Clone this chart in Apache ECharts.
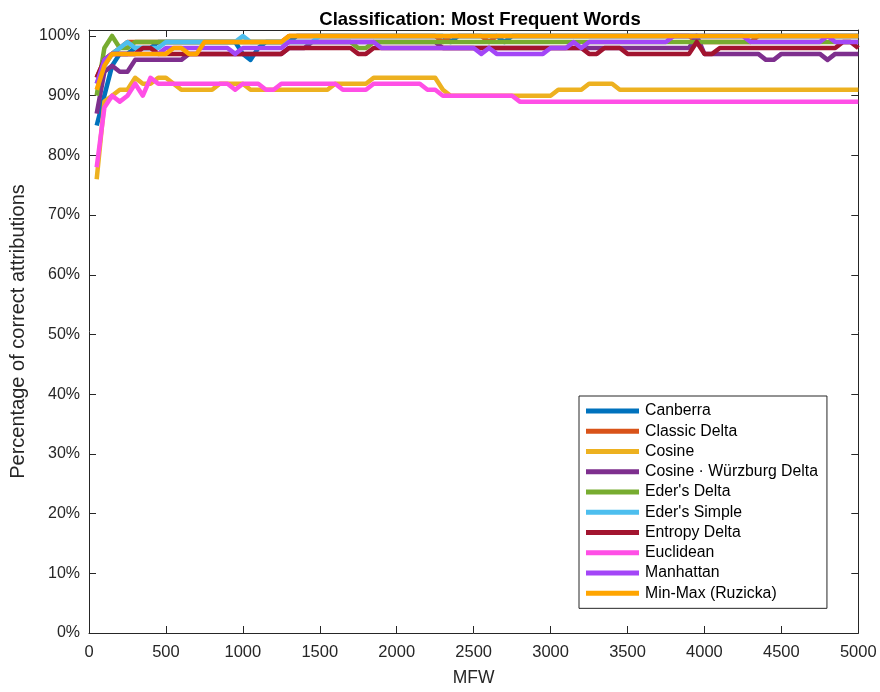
<!DOCTYPE html>
<html>
<head>
<meta charset="utf-8">
<script src="https://cdn.jsdelivr.net/npm/echarts@6/dist/echarts.min.js"></script>
<style>
html,body{margin:0;padding:0;background:#fff;}
#chart{width:880px;height:692px;}
</style>
</head>
<body>
<div id="chart"></div>
<script>
var mfw = [50,100,150,200,250,300,350,400,450,500,
  550,600,650,700,750,800,850,900,950,1000,
  1050,1100,1150,1200,1250,1300,1350,1400,1450,1500,
  1550,1600,1650,1700,1750,1800,1850,1900,1950,2000,
  2050,2100,2150,2200,2250,2300,2350,2400,2450,2500,
  2550,2600,2650,2700,2750,2800,2850,2900,2950,3000,
  3050,3100,3150,3200,3250,3300,3350,3400,3450,3500,
  3550,3600,3650,3700,3750,3800,3850,3900,3950,4000,
  4050,4100,4150,4200,4250,4300,4350,4400,4450,4500,
  4550,4600,4650,4700,4750,4800,4850,4900,4950,5000];

var seriesNames = ["Canberra","Classic Delta","Cosine","Cosine \u00b7 W\u00fcrzburg Delta","Eder's Delta","Eder's Simple","Entropy Delta","Euclidean","Manhattan","Min-Max (Ruzicka)"];

var canberra = [85,90,95,97,97,98,98,98,99,99,
  99,99,99,99,99,99,99,99,99,97,
  96,98,99,99,99,99,100,100,100,100,
  100,100,100,100,100,100,100,100,100,100,
  100,100,100,100,100,100,99,100,100,100,
  100,100,100,99,100,100,100,100,100,100,
  100,100,100,100,100,100,100,100,100,100,
  100,100,100,100,100,100,100,100,100,100,
  100,100,100,100,100,100,100,100,100,100,
  100,100,100,100,100,100,100,100,100,100];

var classicDelta = [93,96,97,98,99,99,99,99,99,99,
  99,99,99,99,99,99,99,99,99,99,
  99,99,99,99,99,100,100,100,100,100,
  100,100,100,100,100,100,100,100,100,100,
  100,100,100,100,100,99,100,100,100,100,
  100,99,100,100,100,100,100,100,100,100,
  100,100,100,100,100,100,100,100,100,100,
  100,100,100,100,100,100,100,100,99,99,
  99,99,99,99,99,99,100,100,100,100,
  100,100,100,100,100,100,100,100,100,100];

var cosine = [76,89,90,91,91,93,92,92,93,93,
  92,91,91,91,91,91,92,92,92,92,
  91,91,91,91,91,91,91,91,91,91,
  91,92,92,92,92,92,93,93,93,93,
  93,93,93,93,93,91,90,90,90,90,
  90,90,90,90,90,90,90,90,90,90,
  91,91,91,91,92,92,92,92,91,91,
  91,91,91,91,91,91,91,91,91,91,
  91,91,91,91,91,91,91,91,91,91,
  91,91,91,91,91,91,91,91,91,91];

var wurzburg = [87,94,95,94,94,96,96,96,96,96,
  96,96,97,97,97,97,97,97,97,97,
  97,97,97,97,97,98,98,98,99,99,
  99,99,99,99,99,99,99,99,99,99,
  99,99,99,99,99,98,98,98,98,98,
  98,98,98,98,98,98,98,98,98,98,
  98,98,98,98,98,98,98,98,98,98,
  98,98,98,98,98,98,98,98,100,97,
  97,97,97,97,97,97,97,96,96,97,
  97,97,97,97,97,96,97,97,97,97];

var edersDelta = [90,98,100,98,98,99,99,99,99,99,
  99,99,99,99,99,99,99,99,99,99,
  99,99,99,99,99,99,99,99,99,99,
  99,99,99,99,98,98,99,99,99,99,
  99,99,99,99,99,99,99,99,99,99,
  99,99,99,99,99,99,99,99,99,99,
  99,99,99,99,99,99,99,99,99,99,
  99,99,99,99,99,99,99,99,99,99,
  99,99,99,99,99,99,99,99,99,99,
  99,99,99,99,99,99,99,99,99,99];

var edersSimple = [92,95,97,98,99,98,98,98,98,99,
  99,99,99,99,99,99,99,99,99,100,
  99,99,99,99,99,99,99,99,99,100,
  100,100,100,100,100,100,100,100,100,100,
  100,100,100,100,100,100,100,100,100,100,
  100,100,100,100,100,100,100,100,100,100,
  100,100,100,100,100,100,100,100,100,100,
  100,100,100,100,100,100,100,100,100,100,
  100,100,100,100,100,100,100,100,100,100,
  100,100,100,100,100,100,100,100,100,100];

var entropyDelta = [93,96,97,97,97,97,98,98,97,97,
  97,97,97,97,97,97,97,97,97,97,
  97,97,97,97,97,98,98,98,98,98,
  98,98,98,98,97,97,98,98,98,98,
  98,98,98,98,98,98,98,98,98,98,
  98,98,98,98,98,98,98,98,98,98,
  98,98,98,98,97,97,98,98,98,97,
  97,97,97,97,97,97,97,97,99,97,
  97,98,98,98,98,98,98,98,98,98,
  98,98,98,98,98,98,98,99,99,98];

var euclidean = [78,88,90,89,90,92,90,93,92,92,
  92,92,92,92,92,92,92,92,91,92,
  92,92,91,91,92,92,92,92,92,92,
  92,92,91,91,91,91,92,92,92,92,
  92,92,92,91,91,90,90,90,90,90,
  90,90,90,90,90,89,89,89,89,89,
  89,89,89,89,89,89,89,89,89,89,
  89,89,89,89,89,89,89,89,89,89,
  89,89,89,89,89,89,89,89,89,89,
  89,89,89,89,89,89,89,89,89,89];

var manhattan = [92,96,97,97,97,97,97,97,97,98,
  98,98,98,98,98,98,98,98,97,98,
  98,98,98,98,98,99,99,99,99,99,
  99,99,99,99,99,99,99,98,98,98,
  98,98,98,98,98,98,98,98,98,98,
  97,98,97,97,97,97,97,97,97,98,
  98,98,99,98,99,99,99,99,99,99,
  99,99,99,99,99,100,100,100,100,100,
  100,100,100,100,100,99,99,99,99,99,
  99,99,99,99,99,100,99,99,99,99];

var minMax = [91,95,97,97,97,97,97,97,97,97,
  98,98,97,97,99,99,99,99,99,99,
  99,99,99,99,99,100,100,100,100,100,
  100,100,100,100,100,100,100,100,100,100,
  100,100,100,100,100,100,100,100,100,100,
  100,100,100,100,100,100,100,100,100,100,
  100,100,100,100,100,100,100,100,100,100,
  100,100,100,100,100,100,100,100,100,100,
  100,100,100,100,100,100,100,100,100,100,
  100,100,100,100,100,100,100,100,100,100];

var colors = ['#0072BD','#D95319','#EDB120','#7E2F8E','#77AC30','#4DBEEE','#A2142F','#FF4FE6','#A346F7','#FFA500'];
var allValues = [canberra, classicDelta, cosine, wurzburg, edersDelta, edersSimple, entropyDelta, euclidean, manhattan, minMax];

var FONT = '"Liberation Sans", Arial, Helvetica, sans-serif';
var AX = '#262626';

var series = seriesNames.map(function (name, k) {
  return {
    name: name,
    type: 'line',
    xAxisIndex: 0,
    yAxisIndex: 0,
    showSymbol: false,
    symbol: 'none',
    data: mfw.map(function (x, i) { return [x, allValues[k][i]]; }),
    lineStyle: { width: 4.5, color: colors[k], join: 'round', cap: 'butt' },
    itemStyle: { color: colors[k] },
    emphasis: { disabled: true },
    animation: false,
    z: 2 + k
  };
});

function axisBase(pos, showLabels) {
  return {
    type: 'value',
    position: pos,
    axisLine: { show: true, onZero: false, lineStyle: { color: AX, width: 1 } },
    axisTick: { show: true, inside: true, length: 7, lineStyle: { color: AX, width: 1 } },
    splitLine: { show: false },
    axisLabel: { show: showLabels, color: AX, fontFamily: FONT, fontSize: 16.5 }
  };
}

var xBottom = axisBase('bottom', true);
xBottom.min = 0; xBottom.max = 5000; xBottom.interval = 500;
xBottom.axisLabel.formatter = function (v) { return String(v); };
xBottom.name = 'MFW';
xBottom.nameLocation = 'middle';
xBottom.nameGap = 36;
xBottom.nameTextStyle = { color: AX, fontFamily: FONT, fontSize: 17.5 };
xBottom.axisLabel.margin = 11;

var xTop = axisBase('top', false);
xTop.min = 0; xTop.max = 5000; xTop.interval = 500;

var yLeft = axisBase('left', true);
yLeft.min = 0; yLeft.max = 101; yLeft.interval = 10;
yLeft.axisLabel.formatter = function (v) { return v > 100 ? '' : v + '%'; };
yLeft.axisLabel.margin = 9;
yLeft.axisLabel.fontSize = 16;
yLeft.name = 'Percentage of correct attributions';
yLeft.nameLocation = 'middle';
yLeft.nameGap = 61;
yLeft.nameTextStyle = { color: AX, fontFamily: FONT, fontSize: 20 };

var yRight = axisBase('right', false);
yRight.min = 0; yRight.max = 101; yRight.interval = 10;

var chart = echarts.init(document.getElementById('chart'), null, { renderer: 'canvas' });
chart.setOption({
  animation: false,
  backgroundColor: '#ffffff',
  color: colors,
  title: {
    text: 'Classification: Most Frequent Words',
    left: 475, top: 5, textAlign: 'center',
    textStyle: { fontFamily: FONT, fontSize: 18.5, fontWeight: 'bold', color: '#000' }
  },
  grid: { left: 87.5, right: 21.7, top: 30, bottom: 52.5, containLabel: false },
  xAxis: [xBottom, xTop],
  yAxis: [yLeft, yRight],
  legend: {
    orient: 'vertical',
    left: 579, top: 396,
    padding: [7, 9, 7, 7],
    itemGap: 4.26,
    itemWidth: 53, itemHeight: 5,
    icon: 'rect',
    backgroundColor: '#fff',
    borderColor: AX, borderWidth: 1, borderRadius: 0,
    textStyle: { fontFamily: FONT, fontSize: 15.8, lineHeight: 16, color: '#000', padding: [0, 0, 0, 1] },
    data: seriesNames.map(function (n) { return { name: n, icon: 'rect' }; })
  },
  series: series
});
</script>
</body>
</html>
